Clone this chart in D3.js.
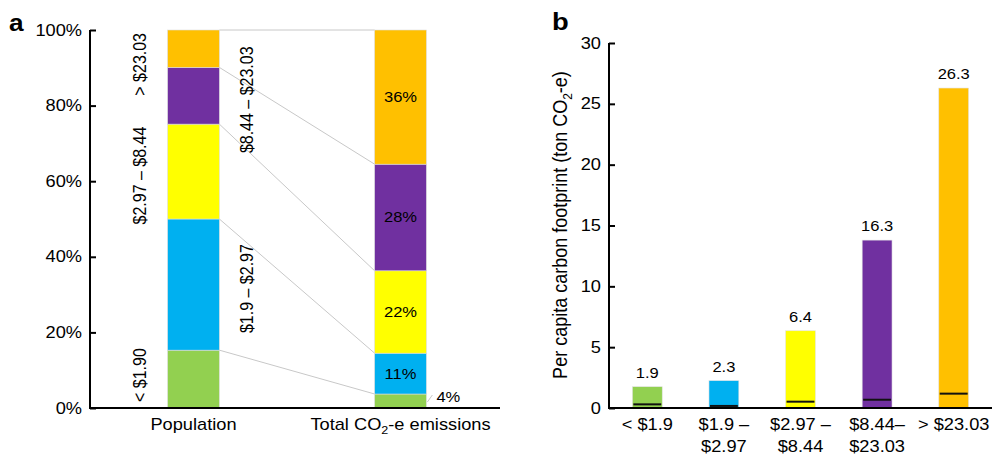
<!DOCTYPE html>
<html>
<head>
<meta charset="utf-8">
<script src="https://cdn.jsdelivr.net/npm/d3@7"></script>
<style>
  body { margin: 0; background: #fff; }
  svg { font-family: "Liberation Sans", Arial, Helvetica, sans-serif; }
</style>
</head>
<body>
<div id="chart"></div>
<script>
'use strict';

// income groups (per day)
var groups      = ['< $1.90', '$1.9 – $2.97', '$2.97 – $8.44', '$8.44 – $23.03', '> $23.03'];
var groupColors = ['#92D050', '#00B0F0', '#FFFF00', '#7030A0', '#FFC000'];

// panel a: shares
var stackCats      = ['Population', 'Total CO2-e emissions'];
var popShare       = [0.153, 0.347, 0.251, 0.150, 0.099];
var emisShare      = [0.037, 0.108, 0.218, 0.282, 0.355];
var emisLabels     = ['4%', '11%', '22%', '28%', '36%'];
var pctTicks       = [0, 0.2, 0.4, 0.6, 0.8, 1];

// panel b: per capita footprint
var barCats    = [['< $1.9'], ['$1.9 –', '$2.97'], ['$2.97 –', '$8.44'], ['$8.44–', '$23.03'], ['> $23.03']];
var barValues  = [1.75, 2.25, 6.35, 13.8, 26.3];
var barLabels  = ['1.9', '2.3', '6.4', '16.3', '26.3'];
var markValues = [0.30, 0.17, 0.52, 0.68, 1.18];
var fpTicks    = [0, 5, 10, 15, 20, 25, 30];

var width = 992, height = 455;
var SX = 1.14; // the figure is a bit wider than tall, text too

var svg = d3.select('#chart').append('svg')
  .attr('width', width)
  .attr('height', height);

// text placed at x,y and stretched horizontally
function stext(parent, x, y, size) {
  return parent.append('text')
    .attr('transform', 'translate(' + x + ',' + y + ') scale(' + SX + ',1)')
    .attr('font-size', size);
}

function styleAxis(g, bottom, top) {
  g.select('.domain').attr('stroke-width', 2).attr('d', 'M0,' + (bottom + 1) + 'V' + top);
  g.selectAll('.tick line').attr('stroke-width', 2);
  g.selectAll('text')
    .attr('font-size', 16)
    .attr('font-family', null)
    .attr('fill', '#000')
    .attr('x', -8 / SX)
    .attr('transform', 'scale(' + SX + ',1)');
}

//
// panel a
//
var A = { left: 90, right: 504, top: 30, bottom: 408 };

var xa = d3.scaleBand()
  .domain(stackCats)
  .range([A.left, A.right])
  .paddingInner(0.75)
  .paddingOuter(0.375);

var ya = d3.scaleLinear().domain([0, 1]).range([A.bottom, A.top]);

function stackOf(arr) {
  var acc = 0;
  return arr.map(function(v, i) {
    var s = { i: i, y0: acc, y1: acc + v };
    acc += v;
    return s;
  });
}
var popStack = stackOf(popShare);
var emisStack = stackOf(emisShare);

var pa = svg.append('g').attr('class', 'panel-a');
var px = xa('Population');
var ex = xa('Total CO2-e emissions');

// connector lines
pa.append('g').selectAll('line')
  .data(popStack)
  .enter().append('line')
    .attr('x1', px + xa.bandwidth())
    .attr('x2', ex)
    .attr('y1', function(d) { return ya(d.y1); })
    .attr('y2', function(d, i) { return ya(emisStack[i].y1); })
    .attr('stroke', '#c8c8c8')
    .attr('stroke-width', 1);

function drawStack(stack, cat) {
  pa.append('g').selectAll('rect')
    .data(stack)
    .enter().append('rect')
      .attr('x', xa(cat))
      .attr('width', xa.bandwidth())
      .attr('y', function(d) { return ya(d.y1); })
      .attr('height', function(d) { return ya(d.y0) - ya(d.y1); })
      .attr('fill', function(d) { return groupColors[d.i]; })
      .attr('stroke', '#dcdcdc')
      .attr('stroke-width', 0.6);
}
drawStack(popStack, 'Population');
drawStack(emisStack, 'Total CO2-e emissions');

// emission share labels
emisStack.filter(function(d) { return d.i > 0; }).forEach(function(d) {
  stext(pa, ex + xa.bandwidth() / 2, ya((d.y0 + d.y1) / 2) + 5, 14.5)
    .attr('text-anchor', 'middle')
    .text(emisLabels[d.i]);
});

// small one sits outside, with a leader
var first = emisStack[0];
var fy = ya((first.y0 + first.y1) / 2);
pa.append('line')
  .attr('x1', ex + xa.bandwidth() + 1)
  .attr('y1', fy + 1)
  .attr('x2', ex + xa.bandwidth() + 6)
  .attr('y2', fy - 6)
  .attr('stroke', '#c8c8c8');
stext(pa, ex + xa.bandwidth() + 10, fy + 1, 14.5).text(emisLabels[0]);

// rotated population labels, alternating sides
pa.append('g').selectAll('text')
  .data(popStack)
  .enter().append('text')
    .attr('font-size', 16)
    .attr('text-anchor', function(d) { return d.i === 4 ? 'end' : 'middle'; })
    .attr('transform', function(d) {
      var x = d.i % 2 === 0 ? px - 22 : px + xa.bandwidth() + 34;
      var y = d.i === 4 ? ya(d.y1) + 3 : ya((d.y0 + d.y1) / 2) + (d.i === 0 ? -4 : 4);
      return 'translate(' + x + ',' + y + ') scale(' + SX + ',1) rotate(-90)';
    })
    .text(function(d) { return groups[d.i]; });

// y axis
var yAxisA = d3.axisLeft(ya)
  .tickValues(pctTicks)
  .tickFormat(d3.format('.0%'))
  .tickSizeInner(-6)
  .tickSizeOuter(0)
  .tickPadding(8);

pa.append('g')
  .attr('transform', 'translate(' + A.left + ',0)')
  .call(yAxisA)
  .call(function(g) { styleAxis(g, A.bottom, A.top); });

// x axis line + labels
pa.append('line')
  .attr('x1', A.left - 1).attr('x2', A.right - 4)
  .attr('y1', A.bottom).attr('y2', A.bottom)
  .attr('stroke', '#000').attr('stroke-width', 2);

stext(pa, px + xa.bandwidth() / 2, 430, 16)
  .attr('text-anchor', 'middle')
  .text('Population');

var tl = stext(pa, ex + xa.bandwidth() / 2, 430, 16)
  .attr('text-anchor', 'middle');
tl.append('tspan').text('Total CO');
tl.append('tspan').attr('font-size', 11).attr('dy', 4).text('2');
tl.append('tspan').attr('dy', -4).text('-e emissions');

stext(svg, 9, 31, 23).attr('font-weight', 'bold').text('a');

//
// panel b
//
var B = { left: 609, right: 992, top: 43, bottom: 408 };

var xb = d3.scaleBand()
  .domain(d3.range(barValues.length))
  .range([B.left, B.right])
  .paddingInner(0.61)
  .paddingOuter(0.305);

var yb = d3.scaleLinear().domain([0, 30]).range([B.bottom, B.top]);

var pb = svg.append('g').attr('class', 'panel-b');

pb.append('g').selectAll('rect')
  .data(barValues)
  .enter().append('rect')
    .attr('x', function(d, i) { return xb(i); })
    .attr('width', xb.bandwidth())
    .attr('y', function(d) { return yb(d); })
    .attr('height', function(d) { return yb(0) - yb(d); })
    .attr('fill', function(d, i) { return groupColors[i]; })
    .attr('stroke', '#e4e4e4')
    .attr('stroke-width', 0.6);

pb.append('g').selectAll('line')
  .data(markValues)
  .enter().append('line')
    .attr('x1', function(d, i) { return xb(i) + 1; })
    .attr('x2', function(d, i) { return xb(i) + xb.bandwidth() - 1; })
    .attr('y1', function(d) { return yb(d); })
    .attr('y2', function(d) { return yb(d); })
    .attr('stroke', '#111')
    .attr('stroke-width', 2);

barValues.forEach(function(d, i) {
  stext(pb, xb(i) + xb.bandwidth() / 2, yb(d) - 9, 14.5)
    .attr('text-anchor', 'middle')
    .text(barLabels[i]);
});

var yAxisB = d3.axisLeft(yb)
  .tickValues(fpTicks)
  .tickSizeInner(-6)
  .tickSizeOuter(0)
  .tickPadding(8);

pb.append('g')
  .attr('transform', 'translate(' + B.left + ',0)')
  .call(yAxisB)
  .call(function(g) { styleAxis(g, B.bottom, B.top); });

pb.append('line')
  .attr('x1', B.left - 1).attr('x2', B.right)
  .attr('y1', B.bottom).attr('y2', B.bottom)
  .attr('stroke', '#000').attr('stroke-width', 2);

barCats.forEach(function(lines, i) {
  var t = stext(pb, xb(i) + xb.bandwidth() / 2, 430, 16).attr('text-anchor', 'middle');
  lines.forEach(function(s, j) {
    t.append('tspan').attr('x', 0).attr('dy', j === 0 ? 0 : 22).text(s);
  });
});

var yt = pb.append('text')
  .attr('transform', 'translate(567,225) scale(' + SX + ',1) rotate(-90)')
  .attr('text-anchor', 'middle')
  .attr('font-size', 18);
yt.append('tspan').text('Per capita carbon footprint (ton CO');
yt.append('tspan').attr('font-size', 12).attr('dy', 4).text('2');
yt.append('tspan').attr('dy', -4).text('-e)');

stext(svg, 552, 30, 24).attr('font-weight', 'bold').text('b');
</script>
</body>
</html>
